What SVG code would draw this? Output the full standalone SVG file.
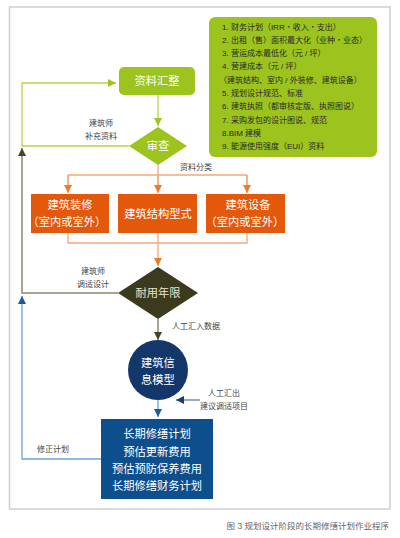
<svg xmlns="http://www.w3.org/2000/svg" width="400" height="538" viewBox="0 0 400 538">
<defs>
<style>
text{font-family:"Liberation Sans","Noto Sans CJK SC",sans-serif;dominant-baseline:central}
.n{font-size:11.25px;fill:#fff;text-anchor:middle}
.lbl{font-size:8px;fill:#444}
.info{font-size:8px;fill:#2a2a2a}
.g{fill:none;stroke:#b4d445;stroke-width:1.3}
.o{fill:none;stroke:#f3a878;stroke-width:1.3}
.ol{fill:none;stroke:#8c8670;stroke-width:1.5}
.b{fill:none;stroke:#6fa2d6;stroke-width:1.3}
</style>
<marker id="ag" markerWidth="10" markerHeight="10" refX="9" refY="5" orient="auto" markerUnits="userSpaceOnUse"><path d="M1,1 L9,5 L1,9 Z" fill="#9cc31e"/></marker>
<marker id="ao" markerWidth="10" markerHeight="10" refX="9" refY="5" orient="auto" markerUnits="userSpaceOnUse"><path d="M1,1 L9,5 L1,9 Z" fill="#ee7a2c"/></marker>
<marker id="aol" markerWidth="10" markerHeight="10" refX="9" refY="5" orient="auto" markerUnits="userSpaceOnUse"><path d="M1,1 L9,5 L1,9 Z" fill="#45432a"/></marker>
<marker id="ab" markerWidth="10" markerHeight="10" refX="9" refY="5" orient="auto" markerUnits="userSpaceOnUse"><path d="M1,1 L9,5 L1,9 Z" fill="#1b5aa0"/></marker>
<marker id="an" markerWidth="10" markerHeight="10" refX="9" refY="5" orient="auto" markerUnits="userSpaceOnUse"><path d="M1,1 L9,5 L1,9 Z" fill="#1a3d70"/></marker>
</defs>
<rect x="0" y="0" width="400" height="538" fill="#fff"/>
<rect x="9.5" y="7" width="380.5" height="502" fill="none" stroke="#cfcfcf" stroke-width="1.5"/>

<g id="connectors">
<path class="g" d="M158,95 V126" marker-end="url(#ag)"/>
<path class="g" d="M129,146 H22 V83 H116" marker-end="url(#ag)"/>
<path class="o" d="M158,165 V175 M68,175 H247 M68,175 V192 M158,175 V192 M247,175 V192" />
<path class="o" d="M68,175 V193" marker-end="url(#ao)"/>
<path class="o" d="M158,175 V193" marker-end="url(#ao)"/>
<path class="o" d="M247,175 V193" marker-end="url(#ao)"/>
<path class="o" d="M68,233 V243 H247 V233 M158,233 V243"/>
<path class="o" d="M158,243 V266" marker-end="url(#ao)"/>
<path class="ol" d="M118,293 H22 V148" marker-end="url(#aol)"/>
<path class="ol" d="M158,319 V340" marker-end="url(#aol)"/>
<path class="b" d="M101,459 H22 V296" marker-end="url(#ab)"/>
<path class="b" d="M158,400 V417" marker-end="url(#ab)"/>
<path fill="none" stroke="#6b7fa3" stroke-width="1.3" d="M200,400 H176" marker-end="url(#an)"/>
</g>

<g id="info">
<rect x="209" y="17" width="168" height="140" rx="6" fill="#9cc31e"/>
<text class="info" x="222" y="27">1. 财务计划（IRR・收入・支出）</text>
<text class="info" x="222" y="40.3">2. 出租（售）面积最大化（业种・业态）</text>
<text class="info" x="222" y="53.6">3. 营运成本最低化（元 / 坪）</text>
<text class="info" x="222" y="66.9">4. 营建成本（元 / 坪）</text>
<text class="info" x="219" y="80.2">（建筑结构、室内 / 外装修、建筑设备）</text>
<text class="info" x="222" y="93.5">5. 规划设计规范、标准</text>
<text class="info" x="222" y="106.8">6. 建筑执照（都审核定版、执照图说）</text>
<text class="info" x="222" y="120.1">7. 采购发包的设计图说、规范</text>
<text class="info" x="222" y="133.4">8.BIM 建模</text>
<text class="info" x="222" y="146.7">9. 能源使用强度（EUI）资料</text>
</g>

<g id="collect">
<rect x="119" y="67" width="76" height="28" rx="5" fill="#9cc31e"/>
<text class="n" x="157" y="81">资料汇整</text>
</g>

<g id="review">
<path d="M158,127 L187,146 L158,165 L129,146 Z" fill="#9cc31e"/>
<text class="n" x="158" y="146">审查</text>
</g>

<g id="labels">
<text class="lbl" x="101" y="123" text-anchor="middle">建筑师</text>
<text class="lbl" x="101" y="136" text-anchor="middle">补充资料</text>
<text class="lbl" x="180" y="167">资料分类</text>
<text class="lbl" x="93" y="271" text-anchor="middle">建筑师</text>
<text class="lbl" x="93" y="284" text-anchor="middle">调适设计</text>
<text class="lbl" x="172" y="326">人工汇入数据</text>
<text class="lbl" x="224" y="393" text-anchor="middle">人工汇出</text>
<text class="lbl" x="224" y="406" text-anchor="middle">建议调适项目</text>
<text class="lbl" x="37" y="449">修正计划</text>
</g>

<g id="decor">
<rect x="31" y="194" width="78" height="39" fill="#e4580b"/>
<text class="n" x="70" y="205">建筑装修</text>
<text class="n" x="67" y="222">（室内或室外）</text>
</g>
<g id="structure">
<rect x="118" y="194" width="79" height="39" fill="#e4580b"/>
<text class="n" x="158" y="213.5">建筑结构型式</text>
</g>
<g id="equip">
<rect x="206" y="194" width="79" height="39" fill="#e4580b"/>
<text class="n" x="248" y="205">建筑设备</text>
<text class="n" x="245" y="222">（室内或室外）</text>
</g>

<g id="life">
<path d="M158,267 L198,293 L158,319 L118,293 Z" fill="#3b3a1e"/>
<text class="n" x="158" y="293" style="fill:#ebe6d0">耐用年限</text>
</g>

<g id="bim">
<circle cx="158" cy="370" r="30" fill="#13376a"/>
<text class="n" x="158" y="363">建筑信</text>
<text class="n" x="158" y="380">息模型</text>
</g>

<g id="plan">
<rect x="101" y="419" width="112" height="80" fill="#0d4e8d"/>
<text class="n" x="157" y="434">长期修缮计划</text>
<text class="n" x="157" y="451.5">预估更新费用</text>
<text class="n" x="157" y="469">预估预防保养费用</text>
<text class="n" x="157" y="486">长期修缮财务计划</text>
</g>

<text x="389" y="526" text-anchor="end" style="font-size:8.5px;fill:#666">图 3  规划设计阶段的长期修缮计划作业程序</text>
</svg>
